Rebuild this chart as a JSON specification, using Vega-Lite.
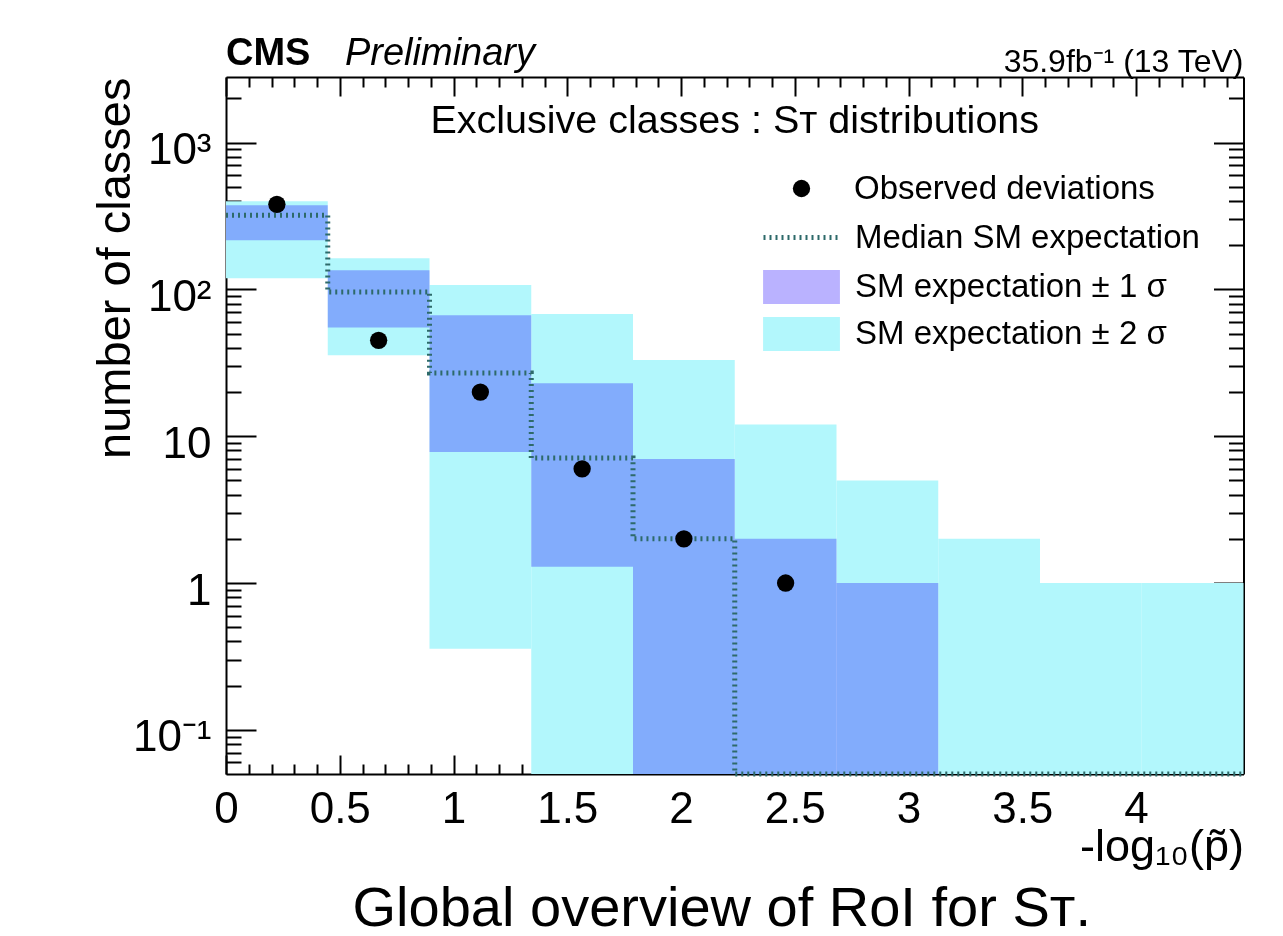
{
  "$schema": "https://vega.github.io/schema/vega-lite/v6.json",
  "width": 1017.5,
  "height": 697,
  "autosize": {"type": "none"},
  "padding": {"left": 226, "top": 77, "right": 39.5, "bottom": 162},
  "background": "white",
  "config": {
    "view": {"stroke": null},
    "font": "Liberation Sans",
    "mark": {"invalid": "show"},
    "axis": {"grid": false, "domainColor": "black", "domainWidth": 2, "tickColor": "black", "tickWidth": 2, "labelColor": "black", "titleColor": "black", "labelFont": "Liberation Sans", "titleFont": "Liberation Sans", "titleFontWeight": "normal", "zindex": 1},
    "legend": {"labelFont": "Liberation Sans", "labelFontSize": 33, "labelColor": "black", "labelLimit": 0, "padding": 0, "offset": 0}
  },
  "title": {"text": "Global overview of RoI for Sᴛ.", "orient": "bottom", "anchor": "middle", "frame": "group", "fontSize": 56, "fontWeight": "normal", "font": "Liberation Sans", "color": "black", "baseline": "alphabetic", "offset": 57, "dx": -13},
  "datasets": {
    "sig2": [
      {"x0": 0, "x1": 0.44725, "lo": 119, "hi": 398, "band": "SM expectation ± 2 σ"},
      {"x0": 0.44725, "x1": 0.8945, "lo": 35.6, "hi": 163, "band": "SM expectation ± 2 σ"},
      {"x0": 0.8945, "x1": 1.34175, "lo": 0.356, "hi": 107, "band": "SM expectation ± 2 σ"},
      {"x0": 1.34175, "x1": 1.789, "lo": 0, "hi": 68, "band": "SM expectation ± 2 σ"},
      {"x0": 1.789, "x1": 2.23625, "lo": 0, "hi": 33, "band": "SM expectation ± 2 σ"},
      {"x0": 2.23625, "x1": 2.6835, "lo": 0, "hi": 12, "band": "SM expectation ± 2 σ"},
      {"x0": 2.6835, "x1": 3.13075, "lo": 0, "hi": 5, "band": "SM expectation ± 2 σ"},
      {"x0": 3.13075, "x1": 3.578, "lo": 0, "hi": 2, "band": "SM expectation ± 2 σ"},
      {"x0": 3.578, "x1": 4.02525, "lo": 0, "hi": 1, "band": "SM expectation ± 2 σ"},
      {"x0": 4.02525, "x1": 4.4725, "lo": 0, "hi": 1, "band": "SM expectation ± 2 σ"}
    ],
    "sig1": [
      {"x0": 0, "x1": 0.44725, "lo": 216, "hi": 374, "band": "SM expectation ± 1 σ"},
      {"x0": 0.44725, "x1": 0.8945, "lo": 55, "hi": 135, "band": "SM expectation ± 1 σ"},
      {"x0": 0.8945, "x1": 1.34175, "lo": 7.8, "hi": 66.7, "band": "SM expectation ± 1 σ"},
      {"x0": 1.34175, "x1": 1.789, "lo": 1.29, "hi": 23, "band": "SM expectation ± 1 σ"},
      {"x0": 1.789, "x1": 2.23625, "lo": 0, "hi": 7, "band": "SM expectation ± 1 σ"},
      {"x0": 2.23625, "x1": 2.6835, "lo": 0, "hi": 2, "band": "SM expectation ± 1 σ"},
      {"x0": 2.6835, "x1": 3.13075, "lo": 0, "hi": 1, "band": "SM expectation ± 1 σ"}
    ],
    "median": [
      {"x": 0, "n": 320, "series": "Median SM expectation"},
      {"x": 0.44725, "n": 96, "series": "Median SM expectation"},
      {"x": 0.8945, "n": 27, "series": "Median SM expectation"},
      {"x": 1.34175, "n": 7.1, "series": "Median SM expectation"},
      {"x": 1.789, "n": 2, "series": "Median SM expectation"},
      {"x": 2.23625, "n": 0, "series": "Median SM expectation"},
      {"x": 2.6835, "n": 0, "series": "Median SM expectation"},
      {"x": 3.13075, "n": 0, "series": "Median SM expectation"},
      {"x": 3.578, "n": 0, "series": "Median SM expectation"},
      {"x": 4.02525, "n": 0, "series": "Median SM expectation"},
      {"x": 4.4725, "n": 0, "series": "Median SM expectation"}
    ],
    "obs": [
      {"x": 0.22363, "n": 380, "series": "Observed deviations"},
      {"x": 0.67088, "n": 45, "series": "Observed deviations"},
      {"x": 1.11813, "n": 20, "series": "Observed deviations"},
      {"x": 1.56538, "n": 6, "series": "Observed deviations"},
      {"x": 2.01263, "n": 2, "series": "Observed deviations"},
      {"x": 2.45988, "n": 1, "series": "Observed deviations"}
    ]
  },
  "layer": [
    {
      "data": {"name": "sig2"},
      "mark": {"type": "rect"},
      "encoding": {
        "x": {"field": "x0", "type": "quantitative",
          "scale": {"type": "linear", "domain": [0, 4.4725], "nice": false, "zero": false},
          "axis": {
            "orient": "bottom",
            "values": [0,0.1,0.2,0.3,0.4,0.5,0.6,0.7,0.8,0.9,1,1.1,1.2,1.3,1.4,1.5,1.6,1.7,1.8,1.9,2,2.1,2.2,2.3,2.4,2.5,2.6,2.7,2.8,2.9,3,3.1,3.2,3.3,3.4,3.5,3.6,3.7,3.8,3.9,4,4.1,4.2,4.3,4.4],
            "labelExpr": "abs(datum.value*2 - round(datum.value*2)) < 0.001 ? format(datum.value, '') : ''",
            "labelFlush": false, "labelOverlap": false,
            "labelFontSize": 44, "labelPadding": 32, "labelBaseline": "top",
            "tickSize": {"condition": {"test": "abs(datum.value*2 - round(datum.value*2)) < 0.001", "value": -19}, "value": -10},
            "title": "-log₁₀(p̃)", "titleFontSize": 45, "titleX": 1017.5, "titleY": 86, "titleAlign": "right", "titleBaseline": "alphabetic", "titleAnchor": "end"
          }
        },
        "x2": {"field": "x1"},
        "y": {"field": "lo", "type": "quantitative",
          "scale": {"type": "log", "domain": [0.05, 2800], "nice": false, "clamp": true},
          "axis": {
            "orient": "left",
            "values": [0.06,0.07,0.08,0.09,0.1,0.2,0.3,0.4,0.5,0.6,0.7,0.8,0.9,1,2,3,4,5,6,7,8,9,10,20,30,40,50,60,70,80,90,100,200,300,400,500,600,700,800,900,1000,2000],
            "labelExpr": "datum.value == 0.1 ? '10⁻¹' : datum.value == 1 ? '1' : datum.value == 10 ? '10' : datum.value == 100 ? '10²' : datum.value == 1000 ? '10³' : ''",
            "labelFontSize": 44, "labelPadding": 45, "labelBaseline": "middle", "labelOffset": 8, "labelOverlap": false,
            "tickSize": {"condition": {"test": "abs(log(datum.value)/LN10 - round(log(datum.value)/LN10)) < 0.001", "value": -30}, "value": -15},
            "title": "number of classes", "titleFontSize": 47, "titleX": -97, "titleY": 0, "titleAngle": 270, "titleAlign": "right", "titleBaseline": "alphabetic"
          }
        },
        "y2": {"field": "hi"},
        "fill": {"field": "band", "type": "nominal",
          "scale": {"domain": ["SM expectation ± 1 σ", "SM expectation ± 2 σ"], "range": ["#BAB2FF", "#B2F7FC"]},
          "legend": {"title": null, "orient": "none", "legendX": 558.5, "legendY": 193, "direction": "vertical", "symbolType": "M-2.26,-1H2.26V1H-2.26Z", "symbolSize": 1156, "symbolStrokeWidth": 0, "symbolOpacity": 1, "labelOffset": 36.5, "rowPadding": 13, "labelFontSize": 33}
        }
      }
    },
    {
      "data": {"name": "sig1"},
      "mark": {"type": "rect", "blend": "multiply"},
      "encoding": {
        "x": {"field": "x0", "type": "quantitative",
          "scale": {"type": "linear", "domain": [0, 4.4725], "nice": false, "zero": false},
          "axis": {
            "orient": "top",
            "values": [0,0.1,0.2,0.3,0.4,0.5,0.6,0.7,0.8,0.9,1,1.1,1.2,1.3,1.4,1.5,1.6,1.7,1.8,1.9,2,2.1,2.2,2.3,2.4,2.5,2.6,2.7,2.8,2.9,3,3.1,3.2,3.3,3.4,3.5,3.6,3.7,3.8,3.9,4,4.1,4.2,4.3,4.4],
            "labels": false, "title": null,
            "tickSize": {"condition": {"test": "abs(datum.value*2 - round(datum.value*2)) < 0.001", "value": -19}, "value": -10}
          }
        },
        "x2": {"field": "x1"},
        "y": {"field": "lo", "type": "quantitative",
          "scale": {"type": "log", "domain": [0.05, 2800], "nice": false, "clamp": true},
          "axis": {
            "orient": "right",
            "values": [0.06,0.07,0.08,0.09,0.1,0.2,0.3,0.4,0.5,0.6,0.7,0.8,0.9,1,2,3,4,5,6,7,8,9,10,20,30,40,50,60,70,80,90,100,200,300,400,500,600,700,800,900,1000,2000],
            "labels": false, "title": null,
            "tickSize": {"condition": {"test": "abs(log(datum.value)/LN10 - round(log(datum.value)/LN10)) < 0.001", "value": -30}, "value": -15}
          }
        },
        "y2": {"field": "hi"},
        "fill": {"field": "band", "type": "nominal"}
      }
    },
    {
      "data": {"name": "median"},
      "mark": {"type": "line", "interpolate": "step-after", "strokeWidth": 5, "color": "#2E6A6A"},
      "encoding": {
        "x": {"field": "x", "type": "quantitative", "scale": {"type": "linear", "domain": [0, 4.4725], "nice": false, "zero": false}, "axis": null},
        "y": {"field": "n", "type": "quantitative", "scale": {"type": "log", "domain": [0.05, 2800], "nice": false, "clamp": true}, "axis": null},
        "strokeDash": {"field": "series", "type": "nominal", "scale": {"range": [[2, 4]]},
          "legend": {"title": null, "orient": "none", "legendX": 535, "legendY": 121, "symbolType": "stroke", "symbolSize": 5476, "symbolStrokeWidth": 5, "symbolStrokeColor": "#2E6A6A", "labelOffset": 15, "labelFontSize": 33}
        }
      }
    },
    {
      "data": {"name": "obs"},
      "mark": {"type": "point", "filled": true, "color": "black", "size": 300, "opacity": 1},
      "encoding": {
        "x": {"field": "x", "type": "quantitative", "scale": {"type": "linear", "domain": [0, 4.4725], "nice": false, "zero": false}, "axis": null},
        "y": {"field": "n", "type": "quantitative", "scale": {"type": "log", "domain": [0.05, 2800], "nice": false, "clamp": true}, "axis": null},
        "shape": {"field": "series", "type": "nominal", "scale": {"range": ["circle"]},
          "legend": {"title": null, "orient": "none", "legendX": 559, "legendY": 95, "symbolSize": 300, "symbolFillColor": "black", "symbolStrokeColor": "black", "symbolStrokeWidth": 0, "symbolOpacity": 1, "labelOffset": 36, "labelFontSize": 33}
        }
      }
    },
    {
      "data": {"values": [{}]},
      "mark": {"type": "text", "text": "CMS", "font": "Liberation Sans", "fontWeight": "bold", "fontSize": 38, "align": "left", "baseline": "alphabetic", "dy": -12, "color": "black"},
      "encoding": {
        "x": {"datum": 0, "type": "quantitative", "scale": {"type": "linear", "domain": [0, 4.4725], "nice": false, "zero": false}, "axis": null},
        "y": {"datum": 2800, "type": "quantitative", "scale": {"type": "log", "domain": [0.05, 2800], "nice": false, "clamp": true}, "axis": null}
      }
    },
    {
      "data": {"values": [{}]},
      "mark": {"type": "text", "text": "Preliminary", "font": "Liberation Sans", "fontStyle": "italic", "fontSize": 38, "align": "left", "baseline": "alphabetic", "dy": -12, "color": "black"},
      "encoding": {
        "x": {"datum": 0.523, "type": "quantitative", "scale": {"type": "linear", "domain": [0, 4.4725], "nice": false, "zero": false}, "axis": null},
        "y": {"datum": 2800, "type": "quantitative", "scale": {"type": "log", "domain": [0.05, 2800], "nice": false, "clamp": true}, "axis": null}
      }
    },
    {
      "data": {"values": [{}]},
      "mark": {"type": "text", "text": "35.9fb⁻¹ (13 TeV)", "font": "Liberation Sans", "fontSize": 32, "align": "right", "baseline": "alphabetic", "dy": -5, "color": "black"},
      "encoding": {
        "x": {"datum": 4.4725, "type": "quantitative", "scale": {"type": "linear", "domain": [0, 4.4725], "nice": false, "zero": false}, "axis": null},
        "y": {"datum": 2800, "type": "quantitative", "scale": {"type": "log", "domain": [0.05, 2800], "nice": false, "clamp": true}, "axis": null}
      }
    },
    {
      "data": {"values": [{}]},
      "mark": {"type": "text", "text": "Exclusive classes : Sᴛ distributions", "font": "Liberation Sans", "fontSize": 39.5, "align": "center", "baseline": "alphabetic", "color": "black"},
      "encoding": {
        "x": {"datum": 2.23625, "type": "quantitative", "scale": {"type": "linear", "domain": [0, 4.4725], "nice": false, "zero": false}, "axis": null},
        "y": {"datum": 1170, "type": "quantitative", "scale": {"type": "log", "domain": [0.05, 2800], "nice": false, "clamp": true}, "axis": null}
      }
    }
  ]
}
